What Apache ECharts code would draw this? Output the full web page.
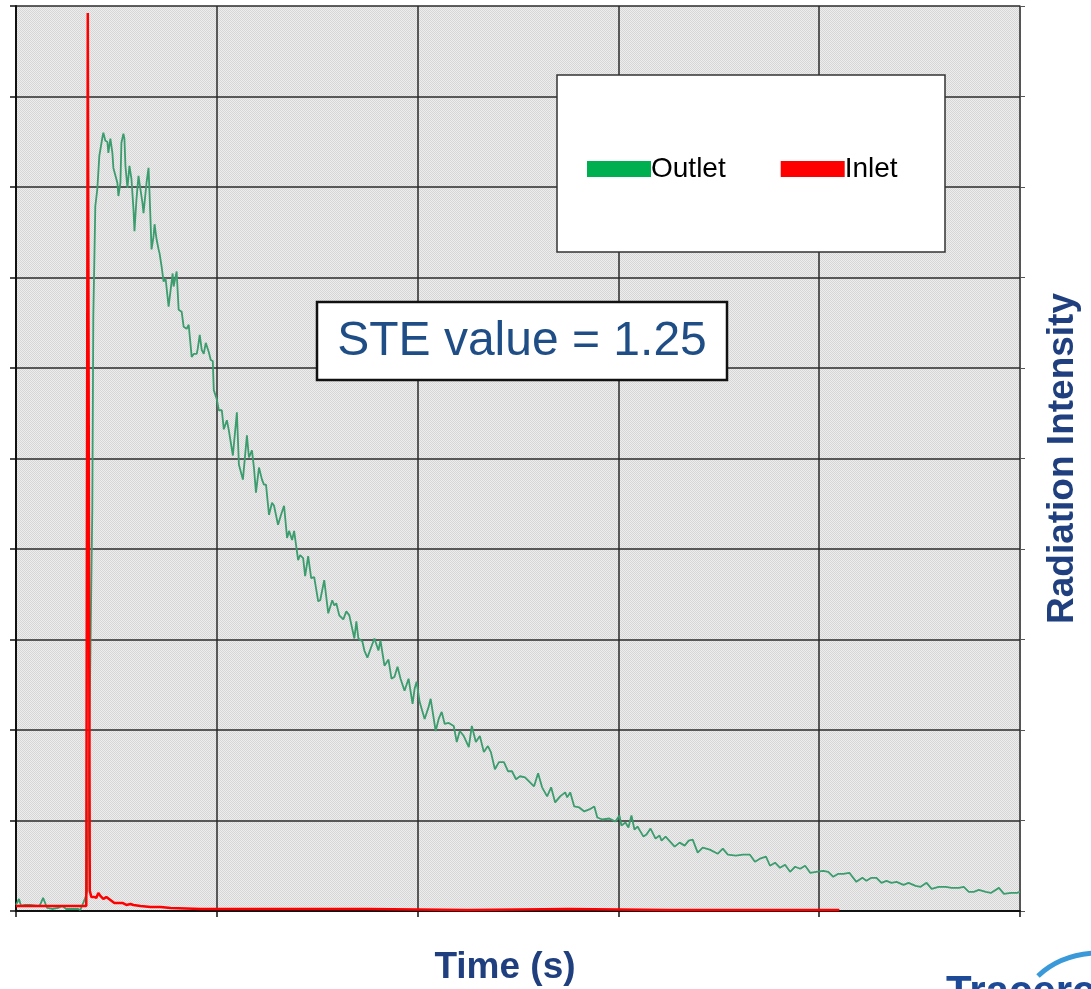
<!DOCTYPE html>
<html>
<head>
<meta charset="utf-8">
<script src="https://cdn.jsdelivr.net/npm/echarts@6/dist/echarts.min.js"></script>
<style>
  html, body { margin: 0; padding: 0; background: #fff; }
  #chart { width: 1091px; height: 989px; }
</style>
</head>
<body>
<div id="chart"></div>
<script>
// values (time, intensity)
var outlet = [
  [0,6],[3,12],[5,5],[9,6],[14,6],[22,5],[24,6],[27,13],[31,3],[36,2],[42,3],[46,5],[50,2],[56,2],[62,2],[64,1],[67,8],[69,13],
  [71,20],[76,400],[77,591],[79,701],[81,718],[83,751],[86,769],[87,774],[89,766],[91,765],[92,754],[94,768],[96,754],[97,739],
  [98,738],[101,724],[102,711],[104,724],[105,764],[107,773],[108,768],[109,741],[111,719],[113,741],[115,728],[117,698],[118,676],
  [120,708],[122,731],[123,724],[126,704],[127,694],[130,724],[132,739],[133,714],[135,658],[137,671],[138,683],[140,668],[142,658],
  [143,654],[145,641],[147,626],[149,629],[152,601],[156,634],[157,621],[160,636],[162,598],[165,596],[167,581],[170,579],[172,583],
  [175,551],[177,554],[180,554],[181,559],[183,573],[185,558],[187,554],[189,565],[192,556],[194,548],[196,547],[197,518],[200,509],
  [202,498],[205,498],[207,479],[210,488],[212,478],[216,453],[220,496],[222,444],[226,429],[230,473],[232,451],[235,458],[237,441],
  [239,416],[242,441],[245,429],[247,424],[249,424],[252,394],[255,406],[257,403],[261,384],[264,394],[267,403],[270,371],[272,378],
  [275,369],[277,378],[281,349],[283,354],[286,351],[288,333],[291,353],[294,331],[297,332],[301,308],[303,309],[307,329],[311,296],
  [315,309],[317,304],[319,306],[322,294],[326,290],[329,298],[332,294],[337,271],[339,288],[341,271],[345,268],[347,259],[350,252],
  [354,263],[357,271],[361,259],[363,269],[367,244],[371,250],[374,231],[377,233],[380,243],[383,231],[387,219],[391,231],[395,206],
  [397,221],[399,228],[402,208],[407,191],[411,203],[413,211],[418,179],[421,191],[424,198],[427,186],[431,187],[436,184],[439,168],
  [442,179],[446,174],[451,163],[454,184],[458,168],[462,174],[466,158],[470,164],[473,158],[477,141],[481,148],[486,148],[490,139],
  [494,139],[498,131],[502,134],[507,133],[511,129],[516,124],[520,137],[524,123],[529,114],[533,123],[537,108],[542,114],[547,118],
  [549,113],[552,118],[556,104],[561,103],[566,99],[571,101],[576,104],[579,93],[584,91],[591,92],[597,89],[601,95],[603,85],[607,88],
  [610,83],[613,95],[616,81],[619,84],[625,74],[628,76],[632,82],[637,72],[641,75],[643,70],[647,74],[656,64],[661,68],[666,65],
  [670,70],[674,71],[679,58],[684,63],[691,61],[699,57],[704,62],[709,56],[717,55],[724,56],[731,56],[736,49],[741,52],[747,54],
  [751,45],[756,48],[761,43],[766,46],[771,39],[776,44],[781,42],[786,45],[791,38],[797,39],[804,40],[809,39],[814,34],[819,37],
  [824,37],[830,38],[837,29],[843,33],[847,30],[852,33],[857,33],[862,28],[867,30],[872,28],[877,29],[884,26],[889,28],[896,25],
  [901,24],[907,28],[912,22],[919,24],[926,24],[932,23],[939,23],[944,24],[949,19],[954,19],[959,21],[966,19],[971,18],[979,23],
  [984,17],[991,18],[997,18],[1000,19]
];
var inlet = [
  [0,5],[30,5],[60,5],[70,5],[71,6],[71.5,893],[72.5,893],[73.5,20],[75,14],[76,15],[78,14],[80,13],[82,18],[84,15],[87,12],
  [90,14],[94,11],[98,8],[102,8],[106,8],[110,6],[114,7],[117,6],[124,5],[134,4],[144,4],[154,3],[184,2],[250,2],[350,2],
  [450,1],[550,2],[650,1],[750,1],[820,1]
];
var seriesNames = ['Outlet', 'Inlet'];
var lineColors = ['#3b9c6e', '#ff0000'];
var legendColors = ['#00b050', '#ff0000'];
var timeMax = 1000, timeStep = 200;
var intensityMax = 900, intensityStep = 90;
var steLabel = 'STE value = 1.25';

// hatched grey fill of the plot area
var tile = document.createElement('canvas');
tile.width = 2; tile.height = 2;
var tctx = tile.getContext('2d');
tctx.fillStyle = '#ededed';
tctx.fillRect(0, 0, 2, 2);
tctx.fillStyle = '#d6d6d6';
tctx.fillRect(0, 0, 1, 1);
tctx.fillRect(1, 1, 1, 1);

var titleColor = '#1f3f7f';
var chart = echarts.init(document.getElementById('chart'));

var gridLine = { show: true, lineStyle: { color: '#2a2a2a', width: 1.5 } };
var axisLine = { show: true, lineStyle: { color: '#111', width: 2 } };

chart.setOption({
  animation: false,
  backgroundColor: '#fff',
  grid: {
    left: 16, right: 71, top: 6, bottom: 78,
    containLabel: false,
    outerBoundsMode: 'none',
    show: true,
    backgroundColor: { image: tile, repeat: 'repeat' },
    borderWidth: 0
  },
  legend: {
    z: 20,
    left: 582, top: 148,
    icon: 'rect',
    itemWidth: 64, itemHeight: 16, itemGap: 55,
    textStyle: { fontFamily: 'Liberation Sans, Arial, sans-serif', fontSize: 28, color: '#000', lineHeight: 32,
                 padding: [0, 0, 0, -5] },
    data: seriesNames.map(function (n, i) { return { name: n, itemStyle: { color: legendColors[i] } }; })
  },
  xAxis: {
    type: 'value', min: 0, max: timeMax, interval: timeStep,
    name: 'Time (s)', nameLocation: 'middle', nameGap: 38,
    nameTextStyle: { fontFamily: 'Liberation Sans, Arial, sans-serif', fontWeight: 'bold', fontSize: 37, color: titleColor,
                     padding: [0, 26, 0, 0] },
    axisLine: axisLine,
    axisTick: { show: true, inside: false, length: 6, lineStyle: { color: '#111', width: 1.5 } },
    axisLabel: { show: false },
    splitLine: gridLine
  },
  yAxis: [{
    type: 'value', min: 0, max: intensityMax, interval: intensityStep,
    axisLine: axisLine,
    axisTick: { show: true, inside: false, length: 6, lineStyle: { color: '#111', width: 1.5 } },
    axisLabel: { show: false },
    splitLine: gridLine
  }, {
    type: 'value', position: 'right', min: 0, max: intensityMax, interval: intensityStep,
    name: 'Radiation Intensity', nameLocation: 'middle', nameGap: 24, nameRotate: 90,
    nameTextStyle: { fontFamily: 'Liberation Sans, Arial, sans-serif', fontWeight: 'bold', fontSize: 37, color: titleColor },
    axisLine: { show: true, lineStyle: { color: '#555', width: 1 } },
    axisTick: { show: true, inside: false, length: 5, lineStyle: { color: '#555', width: 1 } },
    axisLabel: { show: false },
    splitLine: { show: false }
  }],
  series: [{
    name: seriesNames[0], type: 'line', data: outlet, symbol: 'none', z: 3,
    lineStyle: { color: lineColors[0], width: 1.8 }, itemStyle: { color: legendColors[0] }
  }, {
    name: seriesNames[1], type: 'line', data: inlet, symbol: 'none', z: 4,
    lineStyle: { color: lineColors[1], width: 2.5 }, itemStyle: { color: legendColors[1] }
  }],
  graphic: [
    { type: 'rect', z: 10, shape: { x: 557, y: 75, width: 388, height: 177 },
      style: { fill: '#fff', stroke: '#333', lineWidth: 1.5 } },
    { type: 'rect', z: 10, shape: { x: 317, y: 302, width: 410, height: 78 },
      style: { fill: '#fff', stroke: '#111', lineWidth: 2.5 } },
    { type: 'text', z: 11, x: 522, y: 342,
      style: { text: steLabel, fontFamily: 'Liberation Sans, Arial, sans-serif', fontSize: 48, fill: '#1f4e86',
               textAlign: 'center', textVerticalAlign: 'middle' } },
    { type: 'text', z: 11, x: 946, y: 972,
      style: { text: 'Tracerco', fontFamily: 'Liberation Sans, Arial, sans-serif', fontWeight: 'bold', fontSize: 42,
               fill: '#1d4a96', textAlign: 'left', textVerticalAlign: 'top' } },
    { type: 'bezierCurve', z: 11, shape: { x1: 1038, y1: 976, x2: 1095, y2: 953, cpx1: 1060, cpy1: 955 },
      style: { stroke: '#3a9ad9', lineWidth: 5, fill: null } }
  ]
});
</script>
</body>
</html>
